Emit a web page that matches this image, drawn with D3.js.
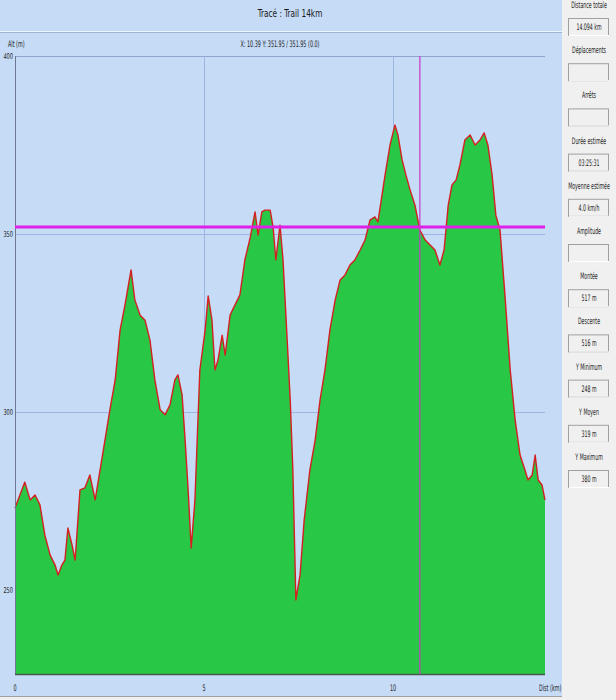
<!DOCTYPE html>
<html>
<head>
<meta charset="utf-8">
<script src="https://cdn.jsdelivr.net/npm/d3@7"></script>
<style>
  body { margin: 0; background: #f0f0f0; }
  svg { display: block; }
</style>
</head>
<body>
<div id="chart"></div>
<script>
// Profile: distance (km) and altitude (m)
const distKm = [0.00, 0.26, 0.40, 0.53, 0.66, 0.79, 0.93, 1.06, 1.14, 1.24, 1.32, 1.40, 1.51, 1.59, 1.72, 1.85, 1.98, 2.12, 2.25, 2.38,
  2.51, 2.65, 2.78, 2.91, 3.07, 3.17, 3.31, 3.44, 3.57, 3.70, 3.84, 3.97, 4.10, 4.23, 4.31, 4.42, 4.50, 4.58, 4.66, 4.76,
  4.84, 4.89, 5.03, 5.11, 5.21, 5.29, 5.37, 5.48, 5.56, 5.69, 5.82, 5.95, 6.08, 6.22, 6.35, 6.43, 6.53, 6.61, 6.75, 6.83,
  6.90, 7.01, 7.09, 7.20, 7.28, 7.35, 7.43, 7.54, 7.65, 7.80, 7.94, 8.07, 8.20, 8.33, 8.47, 8.60, 8.73, 8.86, 8.99, 9.13,
  9.26, 9.39, 9.52, 9.60, 9.71, 9.79, 9.92, 10.05, 10.13, 10.24, 10.34, 10.45, 10.58, 10.71, 10.85, 10.98, 11.11, 11.24, 11.35, 11.46,
  11.56, 11.67, 11.77, 11.90, 12.04, 12.17, 12.30, 12.41, 12.51, 12.62, 12.72, 12.83, 12.96, 13.10, 13.23, 13.36, 13.49, 13.57, 13.68, 13.76,
  13.84, 13.94, 14.02];
const altM = [273.0, 280.3, 275.3, 276.7, 273.9, 265.4, 259.8, 257.0, 254.2, 257.0, 258.4, 267.4, 262.6, 258.4, 278.1, 278.7, 282.3, 275.3, 283.7, 292.1,
  300.6, 309.0, 323.0, 330.1, 339.9, 331.5, 327.2, 325.8, 320.2, 309.0, 300.6, 299.2, 302.0, 309.0, 310.4, 304.8, 292.1, 278.1, 261.8, 275.3,
  297.8, 311.8, 323.0, 332.6, 325.8, 311.8, 314.6, 321.6, 316.0, 327.2, 330.1, 332.9, 342.7, 348.9, 356.2, 349.7, 356.2, 356.7, 356.7, 351.7,
  342.7, 352.5, 342.7, 320.2, 303.4, 283.7, 247.2, 254.2, 269.7, 283.7, 292.1, 303.4, 311.8, 323.0, 331.5, 337.1, 338.5, 341.3, 342.7, 345.5,
  348.3, 353.9, 354.8, 353.4, 361.0, 366.6, 375.0, 380.6, 377.8, 370.8, 366.6, 362.4, 358.1, 351.1, 348.3, 346.9, 345.5, 341.3, 345.5, 358.1,
  363.8, 365.2, 369.4, 376.4, 377.8, 375.0, 376.4, 378.4, 375.0, 366.6, 355.3, 351.1, 332.9, 311.8, 297.8, 287.9, 283.7, 280.9, 282.3, 287.9,
  280.9, 279.5, 275.3];

const xTicks = [0, 5, 10];
const yTicks = [250, 300, 350, 400];
const cursor = { km: 10.71, alt: 351.95 };

const title = "Tracé : Trail 14km";
const cursorText = "X: 10.39 Y: 351.95 / 351.95 (0.0)";

const statLabels = ["Distance totale", "Déplacements", "Arrêts", "Durée estimée", "Moyenne estimée", "Amplitude",
  "Montée", "Descente", "Y Minimum", "Y Moyen", "Y Maximum"];
const statValues = ["14.094 km", "", "", "03:25:31", "4.0 km/h", "", "517 m", "516 m", "248 m", "319 m", "380 m"];

const W = 616, H = 700;
const plot = { left: 15, right: 545, top: 56, bottom: 674 };
const font = "'DejaVu Sans Condensed', 'DejaVu Sans', sans-serif";

const svg = d3.select("#chart").append("svg")
    .attr("width", W).attr("height", H)
    .style("font-family", font);

// narrow text helper (the original uses a very condensed small font)
function narrowText(parent, tx, ty, str, size, anchor, sx) {
    parent.append("text")
        .attr("transform", `translate(${tx},${ty}) scale(${sx},1)`)
        .attr("text-anchor", anchor || "middle")
        .attr("font-size", size).attr("fill", "#1a1a1a")
        .text(str);
}

// left area background
svg.append("rect").attr("x", 0).attr("y", 0).attr("width", 562).attr("height", 696).attr("fill", "#c5dbf6");
svg.append("rect").attr("x", 562).attr("y", 0).attr("width", 54).attr("height", H).attr("fill", "#f0f0f0");
svg.append("line").attr("x1", 0).attr("x2", 562).attr("y1", 696.5).attr("y2", 696.5).attr("stroke", "#a0a0a0");
svg.append("line").attr("x1", 0).attr("x2", 562).attr("y1", 31.5).attr("y2", 31.5).attr("stroke", "#eef4fc").attr("stroke-width", 1);
svg.append("line").attr("x1", 0).attr("x2", 562).attr("y1", 32.5).attr("y2", 32.5).attr("stroke", "#9fb3cc").attr("stroke-width", 1);

narrowText(svg, 290, 17, title, 10, "middle", 0.82);
narrowText(svg, 280, 47, cursorText, 9, "middle", 0.6);

const x = d3.scaleLinear().domain([0, 14.02]).range([plot.left, plot.right]);
const y = d3.scaleLinear().domain([400, 226.4]).range([plot.top, plot.bottom]);

// grid
svg.append("g").selectAll("line").data(yTicks).join("line")
    .attr("x1", plot.left).attr("x2", plot.right)
    .attr("y1", d => Math.round(y(d)) + 0.5).attr("y2", d => Math.round(y(d)) + 0.5)
    .attr("stroke", d => d === 400 ? "#8ea6cf" : "#9bb6e4").attr("stroke-width", 1);
svg.append("g").selectAll("line").data(xTicks.slice(1)).join("line")
    .attr("x1", d => Math.round(x(d)) + 0.5).attr("x2", d => Math.round(x(d)) + 0.5)
    .attr("y1", plot.top).attr("y2", plot.bottom)
    .attr("stroke", "#9bb6e4").attr("stroke-width", 1);

const pts = distKm.map((d, i) => [d, altM[i]]);

const area = d3.area().x(d => x(d[0])).y0(plot.bottom).y1(d => y(d[1]));
svg.append("path").datum(pts).attr("d", area).attr("fill", "#28c846");

const line = d3.line().x(d => x(d[0])).y(d => y(d[1]));
svg.append("path").datum(pts).attr("d", line).attr("fill", "none")
    .attr("stroke", "#d42020").attr("stroke-width", 1.4).attr("stroke-linejoin", "round");

// axes
svg.append("line").attr("x1", plot.left + 0.5).attr("x2", plot.left + 0.5)
    .attr("y1", plot.top).attr("y2", plot.bottom).attr("stroke", "#6c7890");
svg.append("line").attr("x1", plot.left).attr("x2", plot.right)
    .attr("y1", plot.bottom + 0.5).attr("y2", plot.bottom + 0.5).attr("stroke", "#4a5a4a").attr("stroke-width", 1.5);

// cursor
svg.append("line").attr("x1", x(cursor.km)).attr("x2", x(cursor.km))
    .attr("y1", plot.top).attr("y2", plot.bottom).attr("stroke", "#c838c8").attr("stroke-width", 1.2);
svg.append("line").attr("x1", plot.left).attr("x2", plot.right)
    .attr("y1", y(cursor.alt)).attr("y2", y(cursor.alt)).attr("stroke", "#e020e8").attr("stroke-width", 3);

// tick labels
yTicks.forEach(d => narrowText(svg, 13, y(d) + 3, d, 8, "end", 0.7));
xTicks.forEach(d => narrowText(svg, x(d), plot.bottom + 17, d, 9, "middle", 0.6));
narrowText(svg, plot.right - 6, plot.bottom + 17, "Dist (km)", 9, "start", 0.6);
narrowText(svg, 8, 47, "Alt (m)", 9, "start", 0.6);

// stats panel
const panel = svg.append("g").attr("transform", "translate(589,0)");
statLabels.forEach((lab, i) => {
    const y0 = 8 + i * 45.2;
    narrowText(panel, 0, y0, lab, 9, "middle", 0.58);
    panel.append("rect").attr("x", -20.5).attr("y", y0 + 10.5).attr("width", 40).attr("height", 17)
        .attr("fill", "#f0f0f0").attr("stroke", "#a0a0a0");
    panel.append("line").attr("x1", -20).attr("x2", 20).attr("y1", y0 + 27.5).attr("y2", y0 + 27.5).attr("stroke", "#ffffff");
    narrowText(panel, 0, y0 + 22, statValues[i], 9, "middle", 0.58);
});
</script>
</body>
</html>
